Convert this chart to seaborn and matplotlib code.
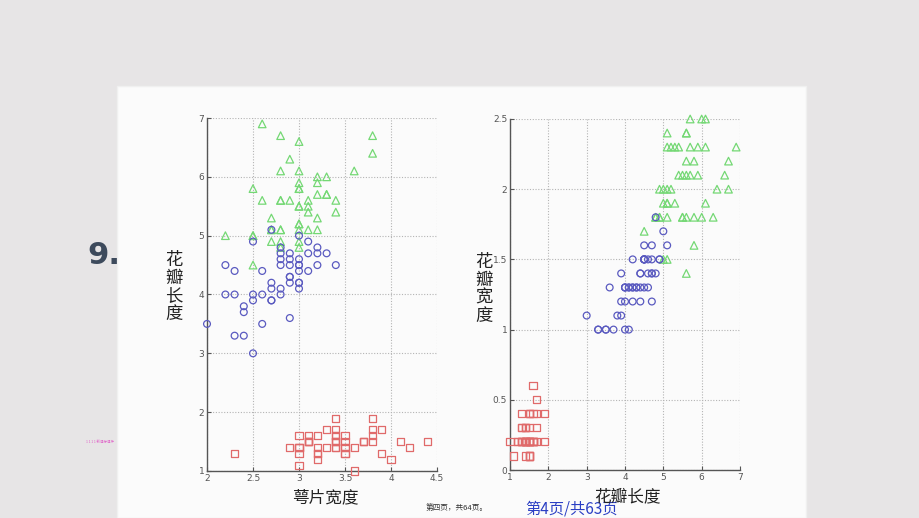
import numpy as np
import pandas as pd
import matplotlib
matplotlib.use("Agg")
import matplotlib.pyplot as plt
import seaborn as sns
from matplotlib.patches import Rectangle

setosa_sepal_width = [3.5,3.0,3.2,3.1,3.6,3.9,3.4,3.4,2.9,3.1,3.7,3.4,3.0,3.0,4.0,4.4,3.9,3.5,3.8,3.8,
                      3.4,3.7,3.6,3.3,3.4,3.0,3.4,3.5,3.4,3.2,3.1,3.4,4.1,4.2,3.1,3.2,3.5,3.1,3.0,3.4,
                      3.5,2.3,3.2,3.5,3.8,3.0,3.8,3.2,3.7,3.3]
setosa_petal_length = [1.4,1.4,1.3,1.5,1.4,1.7,1.4,1.5,1.4,1.5,1.5,1.6,1.4,1.1,1.2,1.5,1.3,1.4,1.7,1.5,
                       1.7,1.5,1.0,1.7,1.9,1.6,1.6,1.5,1.4,1.6,1.6,1.5,1.5,1.4,1.5,1.2,1.3,1.5,1.3,1.5,
                       1.3,1.3,1.3,1.6,1.9,1.4,1.6,1.4,1.5,1.4]
setosa_petal_width = [0.2,0.2,0.2,0.2,0.2,0.4,0.3,0.2,0.2,0.1,0.2,0.2,0.1,0.1,0.2,0.4,0.4,0.3,0.3,0.3,
                      0.2,0.4,0.2,0.5,0.2,0.2,0.4,0.2,0.2,0.2,0.2,0.4,0.1,0.2,0.1,0.2,0.2,0.1,0.2,0.2,
                      0.3,0.3,0.2,0.6,0.4,0.3,0.2,0.2,0.2,0.2]

versicolor_sepal_width = [3.2,3.2,3.1,2.3,2.8,2.8,3.3,2.4,2.9,2.7,2.0,3.0,2.2,2.9,2.9,3.1,3.0,2.7,2.2,2.5,
                          3.2,2.8,2.5,2.8,2.9,3.0,2.8,3.0,2.9,2.6,2.4,2.4,2.7,2.7,3.0,3.4,3.1,2.3,3.0,2.5,
                          2.6,3.0,2.6,2.3,2.7,3.0,2.9,2.9,2.5,2.8]
versicolor_petal_length = [4.7,4.5,4.9,4.0,4.6,4.5,4.7,3.3,4.6,3.9,3.5,4.2,4.0,4.7,3.6,4.4,4.5,4.1,4.5,3.9,
                           4.8,4.0,4.9,4.7,4.3,4.4,4.8,5.0,4.5,3.5,3.8,3.7,3.9,5.1,4.5,4.5,4.7,4.4,4.1,4.0,
                           4.4,4.6,4.0,3.3,4.2,4.2,4.2,4.3,3.0,4.1]
versicolor_petal_width = [1.4,1.5,1.5,1.3,1.5,1.3,1.6,1.0,1.3,1.4,1.0,1.5,1.0,1.4,1.3,1.4,1.5,1.0,1.5,1.1,
                          1.8,1.3,1.5,1.2,1.3,1.4,1.4,1.7,1.5,1.0,1.1,1.0,1.2,1.6,1.5,1.6,1.5,1.3,1.3,1.3,
                          1.2,1.4,1.2,1.0,1.3,1.2,1.3,1.3,1.1,1.3]

virginica_sepal_width = [3.3,2.7,3.0,2.9,3.0,3.0,2.5,2.9,2.5,3.6,3.2,2.7,3.0,2.5,2.8,3.2,3.0,3.8,2.6,2.2,
                         3.2,2.8,2.8,2.7,3.3,3.2,2.8,3.0,2.8,3.0,2.8,3.8,2.8,2.8,2.6,3.0,3.4,3.1,3.0,3.1,
                         3.1,3.1,2.7,3.2,3.3,3.0,2.5,3.0,3.4,3.0]
virginica_petal_length = [6.0,5.1,5.9,5.6,5.8,6.6,4.5,6.3,5.8,6.1,5.1,5.3,5.5,5.0,5.1,5.3,5.5,6.7,6.9,5.0,
                          5.7,4.9,6.7,4.9,5.7,6.0,4.8,4.9,5.6,5.8,6.1,6.4,5.6,5.1,5.6,6.1,5.6,5.5,4.8,5.4,
                          5.6,5.1,5.1,5.9,5.7,5.2,5.0,5.2,5.4,5.1]
virginica_petal_width = [2.5,1.9,2.1,1.8,2.2,2.1,1.7,1.8,1.8,2.5,2.0,1.9,2.1,2.0,2.4,2.3,1.8,2.2,2.3,1.5,
                         2.3,2.0,2.0,1.8,2.1,1.8,1.8,1.8,2.1,1.6,1.9,2.0,2.2,1.5,1.4,2.3,2.4,1.8,1.8,2.1,
                         2.4,2.3,1.9,2.3,2.5,2.3,1.9,2.0,2.3,1.8]

species_order = ["setosa", "virginica", "versicolor"]
left_xticks = [2, 2.5, 3, 3.5, 4, 4.5]
left_yticks = [1, 2, 3, 4, 5, 6, 7]
right_xticks = [1, 2, 3, 4, 5, 6, 7]
right_yticks = [0, 0.5, 1, 1.5, 2, 2.5]

frames = []
for name, sw, pl, pw in [("setosa", setosa_sepal_width, setosa_petal_length, setosa_petal_width),
                         ("virginica", virginica_sepal_width, virginica_petal_length, virginica_petal_width),
                         ("versicolor", versicolor_sepal_width, versicolor_petal_length, versicolor_petal_width)]:
    frames.append(pd.DataFrame({"species": name, "sepal_width": sw,
                                "petal_length": pl, "petal_width": pw}))
df = pd.concat(frames, ignore_index=True)

palette = {"setosa": "#e06a6a", "versicolor": "#5a5ac0", "virginica": "#74d874"}
markers = {"setosa": "s", "versicolor": "o", "virginica": "^"}
sizes = {"setosa": 26, "versicolor": 24, "virginica": 30}

sns.set_theme(style="white")
plt.rcParams['font.family'] = ['DejaVu Sans']
cjk = ['Noto Sans CJK SC', 'DejaVu Sans']

fig = plt.figure(figsize=(9.2, 5.18), dpi=100)
fig.patch.set_facecolor("#e7e5e6")
fig.patches.append(Rectangle((117/920, 0), (806-117)/920, (518-86)/518,
                             transform=fig.transFigure, facecolor="#fbfbfb",
                             edgecolor="#f0f0f0", lw=1.0, zorder=-5))

ax1 = fig.add_axes([207/920, 1-471/518, 230/920, (471-118)/518])
ax2 = fig.add_axes([510/920, 1-470/518, 230/920, (470-119)/518])


def draw(ax, x, y, xlim, ylim, xticks, yticks):
    for sp in species_order:
        sub = df[df["species"] == sp]
        sns.scatterplot(data=sub, x=x, y=y, ax=ax, marker=markers[sp], s=sizes[sp],
                        color=palette[sp], legend=False, zorder=3)
        coll = ax.collections[-1]
        coll.set_facecolor("none")
        coll.set_edgecolor(palette[sp])
        coll.set_linewidth(0.9)
        coll.set_clip_on(False)
    ax.set_xlim(*xlim)
    ax.set_ylim(*ylim)
    ax.set_xticks(xticks)
    ax.set_yticks(yticks)
    ax.set_xticklabels([f"{t:g}" for t in xticks])
    ax.set_yticklabels([f"{t:g}" for t in yticks])
    ax.set_facecolor("#fbfbfb")
    ax.grid(True, linestyle=(0, (1, 1.5)), color="#b4b4b4", lw=0.8)
    ax.set_axisbelow(True)
    for s in ["top", "right"]:
        ax.spines[s].set_visible(False)
    for s in ["left", "bottom"]:
        ax.spines[s].set_color("#555555")
        ax.spines[s].set_linewidth(1.0)
    ax.tick_params(direction="in", length=3, width=0.8, colors="#555555",
                   labelsize=6.5, pad=2, left=True, bottom=True)
    ax.set_xlabel("")
    ax.set_ylabel("")


draw(ax1, "sepal_width", "petal_length", (2, 4.5), (1, 7), left_xticks, left_yticks)
draw(ax2, "petal_length", "petal_width", (1, 7), (0, 2.5), right_xticks, right_yticks)

# axis labels
fig.text(174/920, 1-287/518, "花\n瓣\n长\n度", family=cjk, fontsize=12.5, color="#222222",
         ha="center", va="center", linespacing=1.0)
fig.text(484/920, 1-289/518, "花\n瓣\n宽\n度", family=cjk, fontsize=12.5, color="#222222",
         ha="center", va="center", linespacing=1.0)
fig.text(325/920, 1-498/518, "萼片宽度", family=cjk, fontsize=12, color="#222222",
         ha="center", va="center")

# slide elements
fig.text(104/920, 1-256/518, "9.", fontsize=22, fontweight="bold", color="#3d4a5c",
         ha="center", va="center")
fig.text(100/920, 1-442/518, "1 1 1 1 新课标课件", family=cjk, fontsize=2.5, color="#e060c8",
         ha="center", va="center")
fig.text(457/920, 1-508/518, "第四页，共64页。", family=cjk, fontsize=5.5, color="#333333",
         ha="center", va="center")
fig.text(572/920, 1-509/518, "第4页/共63页", family=cjk, fontsize=11, color="#2b3fc4",
         ha="center", va="center")
fig.text(627/920, 1-497/518, "花瓣长度", family=cjk, fontsize=12, color="#222222",
         ha="center", va="center")

fig.savefig("out.png", dpi=100, facecolor=fig.get_facecolor())
